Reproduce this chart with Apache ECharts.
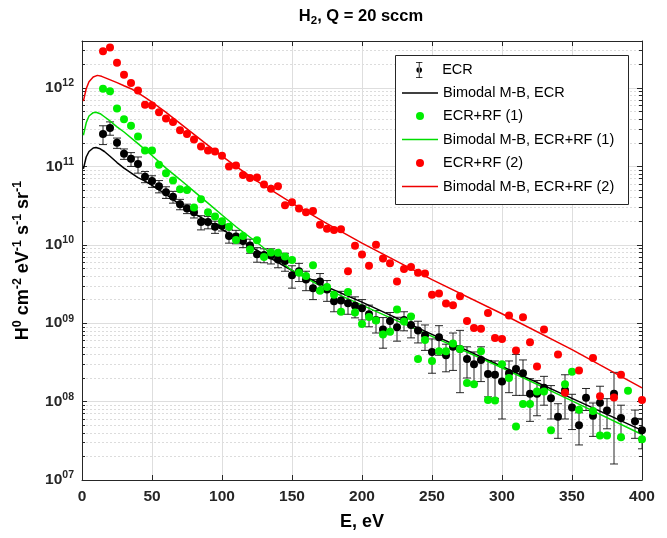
<!DOCTYPE html>
<html>
<head>
<meta charset="utf-8">
<script src="https://cdn.jsdelivr.net/npm/echarts@6/dist/echarts.min.js"></script>
<style>
  html, body { margin: 0; background: #fff; }
  #chart { width: 667px; height: 538px; }
</style>
</head>
<body>
<div id="chart"></div>
<script>
// measured H0 flux, [E (eV), value]
var ecr = [[15,2.6e11],[20,3.1e11],[25,2.0e11],[30,1.45e11],[35,1.25e11],[40,1.07e11],[45,7.4e10],[50,6.5e10],
  [55,5.6e10],[60,4.7e10],[65,4.1e10],[70,3.3e10],[75,2.9e10],[80,2.6e10],[85,1.95e10],[90,1.95e10],[95,1.7e10],
  [100,1.75e10],[105,1.3e10],[110,1.28e10],[115,1.12e10],[120,9.8e9],[125,7.6e9],[130,7.4e9],[135,7.3e9],[140,6.5e9],
  [145,6.2e9],[150,4.1e9],[155,4.6e9],[160,3.6e9],[165,2.8e9],[170,3.4e9],[175,2.7e9],[180,1.9e9],[185,1.95e9],
  [190,1.8e9],[195,1.67e9],[200,1.55e9],[205,1.3e9],[210,1.1e9],[215,8.3e8],[220,1.07e9],[225,8.9e8],[230,1.1e9],
  [235,9.5e8],[240,8.1e8],[245,7.0e8],[250,4.3e8],[255,6.6e8],[260,3.9e8],[265,5.0e8],[270,4.7e8],[275,3.5e8],
  [280,3.0e8],[285,3.4e8],[290,2.25e8],[295,2.2e8],[300,1.8e8],[305,2.3e8],[310,2.6e8],[315,2.3e8],[320,1.26e8],
  [325,1.26e8],[330,1.5e8],[335,1.1e8],[340,6.4e7],[345,1.4e8],[350,8.4e7],[355,5.0e7],[360,1.12e8],[365,6.6e7],
  [370,9.7e7],[375,7.7e7],[380,1.26e8],[385,6.2e7],[395,5.6e7],[400,4.3e7]];
// ECR error bars (one sigma, same order as ecr)
var ecrErr = [7e10,6e10,3e10,2.2e10,2.5e10,2.5e10,1.2e10,1.1e10,
  1.0e10,8e9,7e9,5e9,4e9,4e9,4e9,3.5e9,3e9,
  2.5e9,2.5e9,2.5e9,2e9,2e9,1.6e9,1.5e9,1.6e9,1.4e9,
  1.6e9,1.3e9,1.2e9,1.0e9,8e8,9e8,8e8,5e8,6e8,
  5e8,5e8,4.5e8,4e8,3.5e8,3.5e8,3e8,3e8,3e8,
  3e8,2.5e8,2.5e8,2e8,2.7e8,1.5e8,2.5e8,3.4e8,1.5e8,
  1.3e8,1.6e8,1.1e8,1.1e8,1.2e8,1e8,1.4e8,1.1e8,7e7,
  6e7,6e7,5e7,3e7,8e7,4e7,2.2e7,3.5e7,3e7,
  6e7,3.2e7,1.1e8,2.8e7,2.2e7,1.8e7];
var rf1 = [[15,9.8e11],[20,9.1e11],[25,5.5e11],[30,4.0e11],[35,3.3e11],[40,2.4e11],[45,1.6e11],[50,1.6e11],
  [55,1.05e11],[60,8.2e10],[65,6.6e10],[70,5.1e10],[75,5.0e10],[80,3.0e10],[85,3.8e10],[90,2.6e10],[95,2.3e10],
  [100,2.0e10],[105,1.7e10],[110,1.15e10],[115,1.3e10],[120,8.7e9],[125,1.14e10],[130,7.0e9],[135,8.0e9],[140,7.9e9],
  [145,7.1e9],[150,6.4e9],[155,4.4e9],[160,4.0e9],[165,5.5e9],[170,2.6e9],[175,2.9e9],[180,2.3e9],[185,1.4e9],
  [190,2.5e9],[195,1.37e9],[200,9.8e8],[205,1.2e9],[210,1.08e9],[215,7.2e8],[220,7.8e8],[225,1.5e9],[230,1.05e9],
  [235,1.22e9],[240,3.5e8],[245,6.1e8],[250,3.3e8],[255,4.4e8],[260,4.4e8],[265,5.5e8],[270,4.7e8],[275,1.73e8],
  [280,1.66e8],[285,4.4e8],[290,1.05e8],[295,1.03e8],[300,3.0e8],[305,2.0e8],[310,4.8e7],[315,9.3e7],[320,9.3e7],
  [325,1.35e8],[330,1.35e8],[335,4.3e7],[345,1.67e8],[350,2.4e8],[355,7.9e7],[365,7.6e7],[370,3.7e7],[375,3.7e7],
  [385,3.5e7],[390,1.38e8],[400,3.3e7]];
var rf2 = [[15,2.95e12],[20,3.3e12],[25,2.1e12],[30,1.48e12],[35,1.16e12],[40,9.3e11],[45,6.1e11],[50,6.0e11],
  [55,4.9e11],[60,4.1e11],[65,3.7e11],[70,2.9e11],[75,2.6e11],[80,2.2e11],[85,1.8e11],[90,1.6e11],[95,1.55e11],
  [100,1.37e11],[105,1.0e11],[110,1.03e11],[115,7.8e10],[120,7.1e10],[125,7.2e10],[130,5.9e10],[135,5.2e10],[140,5.6e10],
  [145,3.2e10],[150,3.5e10],[155,2.9e10],[160,2.6e10],[165,2.7e10],[170,1.8e10],[175,1.6e10],[180,1.55e10],[185,1.58e10],
  [190,4.6e9],[195,9.7e9],[200,7.5e9],[205,5.4e9],[210,1.0e10],[215,6.7e9],[220,5.8e9],[225,3.4e9],[230,4.9e9],
  [235,5.2e9],[240,4.4e9],[245,4.3e9],[250,2.3e9],[255,2.4e9],[260,1.78e9],[265,1.69e9],[270,2.2e9],[275,1.07e9],
  [280,8.7e8],[285,8.5e8],[290,1.35e9],[295,6.5e8],[300,6.3e8],[305,1.25e9],[310,4.5e8],[315,1.19e9],[320,5.7e8],
  [325,2.8e8],[330,8.3e8],[340,4.0e8],[345,1.3e8],[355,2.5e8],[365,3.6e8],[370,1.17e8],[380,1.13e8],[385,2.2e8],
  [400,1.05e8]];

// bimodal Maxwell-Boltzmann fits
var fitEcr = [[1,9.3e10],[3,1.32e11],[5,1.55e11],[8,1.72e11],[10,1.74e11],[13,1.68e11],[16,1.55e11],[20,1.35e11],
  [25,1.12e11],[30,9.5e10],[35,8.3e10],[40,7.2e10],[45,6.5e10],[50,5.75e10],[60,4.4e10],[70,3.25e10],[80,2.5e10],
  [90,2.0e10],[100,1.58e10],[110,1.23e10],[125,8.5e9],[150,4.7e9],[175,2.9e9],[200,1.86e9],[250,7.2e8],[300,2.8e8],
  [350,1.1e8],[400,4.3e7]];
var fitRf1 = [[1,2.5e11],[3,3.6e11],[5,4.4e11],[8,4.85e11],[10,4.9e11],[13,4.7e11],[16,4.3e11],[20,3.8e11],
  [25,3.2e11],[30,2.75e11],[40,1.95e11],[50,1.38e11],[60,9.5e10],[70,6.8e10],[80,4.8e10],[90,3.4e10],[100,2.4e10],
  [110,1.7e10],[125,1.07e10],[150,4.7e9],[175,2.7e9],[200,1.7e9],[250,6.8e8],[300,2.7e8],[350,1.02e8],[400,3.8e7]];
var fitRf2 = [[1,6.8e11],[3,9.8e11],[5,1.2e12],[8,1.38e12],[11,1.45e12],[14,1.41e12],[18,1.32e12],[25,1.17e12],
  [30,1.07e12],[35,9.8e11],[40,8.7e11],[45,7.6e11],[50,6.6e11],[60,4.9e11],[70,3.55e11],[80,2.57e11],[90,1.86e11],
  [100,1.35e11],[110,1.0e11],[125,6.5e10],[150,3.4e10],[175,1.86e10],[200,1.05e10],[250,3.6e9],[300,1.32e9],
  [350,4.6e8],[400,1.5e8]];

var legendNames = ['ECR', 'Bimodal M-B, ECR', 'ECR+RF (1)', 'Bimodal M-B, ECR+RF (1)', 'ECR+RF (2)', 'Bimodal M-B, ECR+RF (2)'];

var FONT = 'Liberation Sans, Arial, Helvetica, sans-serif';
var AX = '#262626';
var errData = ecr.map(function (p, i) { return [p[0], p[1] - ecrErr[i], p[1] + ecrErr[i]]; });

function expLabel(v) {
  var l = Math.log10(v), e = Math.round(l);
  if (Math.abs(l - e) > 1e-6) return '';
  return '{b|10}{s|' + (e < 10 ? '0' + e : e) + '}';
}

function renderErr(params, api) {
  var x = api.value(0);
  var lo = api.coord([x, api.value(1)]);
  var hi = api.coord([x, api.value(2)]);
  var w = 4;
  var st = { stroke: '#111', lineWidth: 0.9 };
  return {
    type: 'group',
    children: [
      { type: 'line', shape: { x1: lo[0], y1: lo[1], x2: hi[0], y2: hi[1] }, style: st },
      { type: 'line', shape: { x1: lo[0] - w, y1: lo[1], x2: lo[0] + w, y2: lo[1] }, style: st },
      { type: 'line', shape: { x1: hi[0] - w, y1: hi[1], x2: hi[0] + w, y2: hi[1] }, style: st }
    ]
  };
}

var richTick = {
  b: { fontSize: 15.5, fontWeight: 'bold', fontFamily: FONT, color: AX, lineHeight: 20 },
  s: { fontSize: 10.5, fontWeight: 'bold', fontFamily: FONT, color: AX, verticalAlign: 'top', lineHeight: 20 }
};
var richName = {
  b: { fontSize: 18, fontWeight: 'bold', fontFamily: FONT, color: '#000', lineHeight: 24 },
  s: { fontSize: 12.5, fontWeight: 'bold', fontFamily: FONT, color: '#000', verticalAlign: 'top', lineHeight: 24 }
};

// one legend per row so each icon can have its own size
var rowY = [70, 93, 116, 139.5, 163, 186.5];
var errIcon = 'path://M3.5,0h1v20h-1z M0,0h8v1h-8z M0,19h8v1h-8z M4,6.5a3.5,3.5,0,1,0,0.001,0z';
var legends = legendNames.map(function (n, i) {
  var isLine = i % 2 === 1;
  var h = i === 0 ? 16 : (isLine ? 1.6 : 8);
  return {
    data: [i === 0 ? { name: n, icon: errIcon } : (isLine ? { name: n, icon: 'rect' } : n)],
    left: isLine ? 402 : 416, top: rowY[i] - 8, padding: 0,
    itemWidth: 36, itemHeight: h, itemGap: 0,
    selectedMode: false,
    textStyle: { fontFamily: FONT, fontSize: 14.5, color: '#000', lineHeight: 16, padding: [0, 0, 0, 0] }
  };
});

var chart = echarts.init(document.getElementById('chart'));
chart.setOption({
  animation: false,
  backgroundColor: '#fff',
  grid: { left: 82, right: 25, top: 41, bottom: 58, outerBoundsMode: 'none' },
  graphic: [
    {
      type: 'text', x: 361, y: 16, z: 5,
      style: {
        text: '{b|H}{sb|2}{b|, Q = 20 sccm}',
        align: 'center', verticalAlign: 'middle',
        rich: {
          b: { fontSize: 16.5, fontWeight: 'bold', fontFamily: FONT, fill: '#000', lineHeight: 22 },
          sb: { fontSize: 11.5, fontWeight: 'bold', fontFamily: FONT, fill: '#000', verticalAlign: 'bottom', lineHeight: 22 }
        }
      }
    },
    {
      type: 'rect', z: 3, silent: true,
      shape: { x: 395.5, y: 55.5, width: 233, height: 149 },
      style: { fill: '#fff', stroke: AX, lineWidth: 1 }
    }
  ],
  legend: legends,
  xAxis: [
    {
      type: 'value', min: 0, max: 400, interval: 50, position: 'bottom',
      name: 'E, eV', nameLocation: 'middle', nameGap: 33,
      nameTextStyle: { fontFamily: FONT, fontSize: 18, fontWeight: 'bold', color: '#000' },
      axisLine: { show: true, onZero: false, lineStyle: { color: AX, width: 1 } },
      axisTick: { show: true, inside: true, length: 5, lineStyle: { color: AX } },
      axisLabel: { margin: 9, fontFamily: FONT, fontSize: 15.5, fontWeight: 'bold', color: AX },
      splitLine: { show: true, lineStyle: { color: '#dedede', width: 1 } }
    },
    {
      type: 'value', min: 0, max: 400, interval: 50, position: 'top',
      axisLine: { show: true, onZero: false, lineStyle: { color: AX, width: 1 } },
      axisTick: { show: true, inside: true, length: 5, lineStyle: { color: AX } },
      axisLabel: { show: false }, splitLine: { show: false }
    }
  ],
  yAxis: [
    {
      type: 'log', logBase: 10, min: 1e7, max: 3.98e12, position: 'left',
      name: '{b|H}{s|0}{b| cm}{s|-2}{b| eV}{s|-1}{b| s}{s|-1}{b| sr}{s|-1}',
      nameLocation: 'middle', nameGap: 47, nameRotate: 90,
      nameTextStyle: { rich: richName },
      axisLine: { show: true, onZero: false, lineStyle: { color: AX, width: 1 } },
      axisTick: { show: true, inside: true, length: 5, lineStyle: { color: AX } },
      minorTick: { show: true, splitNumber: 9, length: 3, lineStyle: { color: AX } },
      axisLabel: { margin: 8, formatter: expLabel, rich: richTick },
      splitLine: { show: true, lineStyle: { color: '#dedede', width: 1 } },
      minorSplitLine: { show: true, lineStyle: { color: '#d4d4d4', width: 0.8, type: [2, 2] } }
    },
    {
      type: 'log', logBase: 10, min: 1e7, max: 3.98e12, position: 'right',
      axisLine: { show: true, onZero: false, lineStyle: { color: AX, width: 1 } },
      axisTick: { show: true, inside: true, length: 5, lineStyle: { color: AX } },
      minorTick: { show: true, splitNumber: 9, length: 3, lineStyle: { color: AX } },
      axisLabel: { show: false }, splitLine: { show: false }
    }
  ],
  series: [
    {
      type: 'custom', name: 'ECR err', renderItem: renderErr, data: errData,
      encode: { x: 0, y: [1, 2] }, clip: true, silent: true, z: 2
    },
    {
      type: 'scatter', name: legendNames[0], data: ecr, symbolSize: 8,
      itemStyle: { color: '#000', opacity: 1 }, z: 2
    },
    {
      type: 'line', name: legendNames[1], data: fitEcr, symbol: 'none', showSymbol: false,
      lineStyle: { color: '#000', width: 1.5 }, itemStyle: { color: '#000' }, z: 2
    },
    {
      type: 'scatter', name: legendNames[2], data: rf1, symbolSize: 8,
      itemStyle: { color: '#00ee00', opacity: 1 }, z: 2
    },
    {
      type: 'line', name: legendNames[3], data: fitRf1, symbol: 'none', showSymbol: false,
      lineStyle: { color: '#00dd00', width: 1.5 }, itemStyle: { color: '#00dd00' }, z: 2
    },
    {
      type: 'scatter', name: legendNames[4], data: rf2, symbolSize: 8,
      itemStyle: { color: '#ff0000', opacity: 1 }, z: 2
    },
    {
      type: 'line', name: legendNames[5], data: fitRf2, symbol: 'none', showSymbol: false,
      lineStyle: { color: '#ee0000', width: 1.5 }, itemStyle: { color: '#ee0000' }, z: 2
    }
  ]
});
</script>
</body>
</html>
